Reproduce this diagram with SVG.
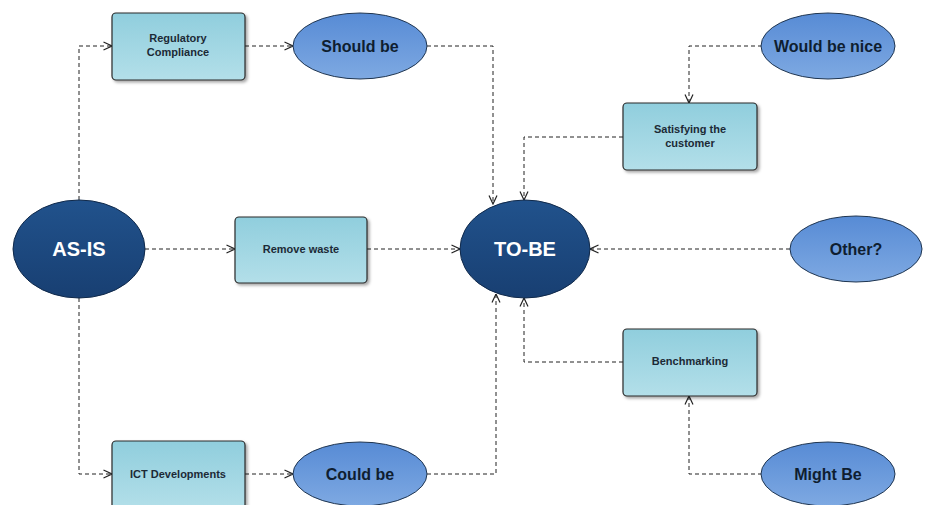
<svg xmlns="http://www.w3.org/2000/svg" width="925" height="505" viewBox="0 0 925 505">
<defs>
<linearGradient id="gDark" x1="0" y1="0" x2="0" y2="1"><stop offset="0" stop-color="#21528c"/><stop offset="1" stop-color="#183f72"/></linearGradient>
<linearGradient id="gLight" x1="0" y1="0" x2="0" y2="1"><stop offset="0" stop-color="#578bd5"/><stop offset="1" stop-color="#7ea9e2"/></linearGradient>
<linearGradient id="gBox" x1="0" y1="0" x2="0" y2="1"><stop offset="0" stop-color="#90cedd"/><stop offset="1" stop-color="#b3dfe9"/></linearGradient>
<filter id="sh" x="-10%" y="-10%" width="130%" height="130%"><feDropShadow dx="2" dy="2" stdDeviation="1.5" flood-color="#000" flood-opacity="0.35"/></filter>
<marker id="arr" viewBox="0 0 10 10" refX="9.5" refY="5" markerWidth="10" markerHeight="10" markerUnits="userSpaceOnUse" orient="auto"><path d="M1,1 L9.5,5 L1,9" fill="none" stroke="#222" stroke-width="1.2"/></marker>
</defs>
<style>
.c{fill:none;stroke:#222;stroke-width:1;stroke-dasharray:4 3;marker-end:url(#arr)}
.dark{fill:url(#gDark);stroke:#10294a;stroke-width:1}
.light{fill:url(#gLight);stroke:#1f3550;stroke-width:1}
.box{fill:url(#gBox);stroke:#2a2a2a;stroke-width:1.2;filter:url(#sh)}
.tw{font-family:"Liberation Sans",Arial,sans-serif;font-weight:bold;font-size:20px;fill:#fff;text-anchor:middle}
.tl{font-family:"Liberation Sans",Arial,sans-serif;font-weight:bold;font-size:16px;fill:#0f1e30;text-anchor:middle}
.tb{font-family:"Liberation Sans",Arial,sans-serif;font-weight:bold;font-size:11px;fill:#1c2a36;text-anchor:middle}
</style>
<rect width="925" height="505" fill="#fff"/>
<g id="connectors">
<path class="c" d="M79,200 V46 H112"/>
<path class="c" d="M245,46 H293"/>
<path class="c" d="M427,46 H493 V204"/>
<path class="c" d="M623,137 H524 V200"/>
<path class="c" d="M762,46 H689 V103"/>
<path class="c" d="M790,249 H590"/>
<path class="c" d="M145,249 H235"/>
<path class="c" d="M367,249 H460"/>
<path class="c" d="M79,298 V474 H112"/>
<path class="c" d="M245,474 H293"/>
<path class="c" d="M427,474 H496 V294"/>
<path class="c" d="M623,362 H524 V298"/>
<path class="c" d="M762,474 H689 V396"/>
</g>
<g id="as-is"><ellipse class="dark" cx="79" cy="249" rx="66" ry="49"/><text class="tw" x="79" y="256">AS-IS</text></g>
<g id="to-be"><ellipse class="dark" cx="525" cy="249" rx="65" ry="49"/><text class="tw" x="525" y="256">TO-BE</text></g>
<g id="regulatory"><rect class="box" x="112" y="13" width="133" height="67" rx="4"/><text class="tb" x="178" y="42">Regulatory</text><text class="tb" x="178" y="56">Compliance</text></g>
<g id="should-be"><ellipse class="light" cx="360" cy="46" rx="67" ry="33"/><text class="tl" x="360" y="52">Should be</text></g>
<g id="remove-waste"><rect class="box" x="235" y="217" width="132" height="66" rx="4"/><text class="tb" x="301" y="253">Remove waste</text></g>
<g id="satisfying"><rect class="box" x="623" y="103" width="134" height="67" rx="4"/><text class="tb" x="690" y="133">Satisfying the</text><text class="tb" x="690" y="147">customer</text></g>
<g id="would-be-nice"><ellipse class="light" cx="828" cy="46" rx="67" ry="33"/><text class="tl" x="828" y="52">Would be nice</text></g>
<g id="other"><ellipse class="light" cx="856" cy="249" rx="66" ry="33"/><text class="tl" x="856" y="255">Other?</text></g>
<g id="benchmarking"><rect class="box" x="623" y="329" width="134" height="67" rx="4"/><text class="tb" x="690" y="365">Benchmarking</text></g>
<g id="might-be"><ellipse class="light" cx="828" cy="474" rx="67" ry="32"/><text class="tl" x="828" y="480">Might Be</text></g>
<g id="ict"><rect class="box" x="112" y="441" width="133" height="68" rx="4"/><text class="tb" x="178" y="478">ICT Developments</text></g>
<g id="could-be"><ellipse class="light" cx="360" cy="474" rx="67" ry="32"/><text class="tl" x="360" y="480">Could be</text></g>
</svg>
